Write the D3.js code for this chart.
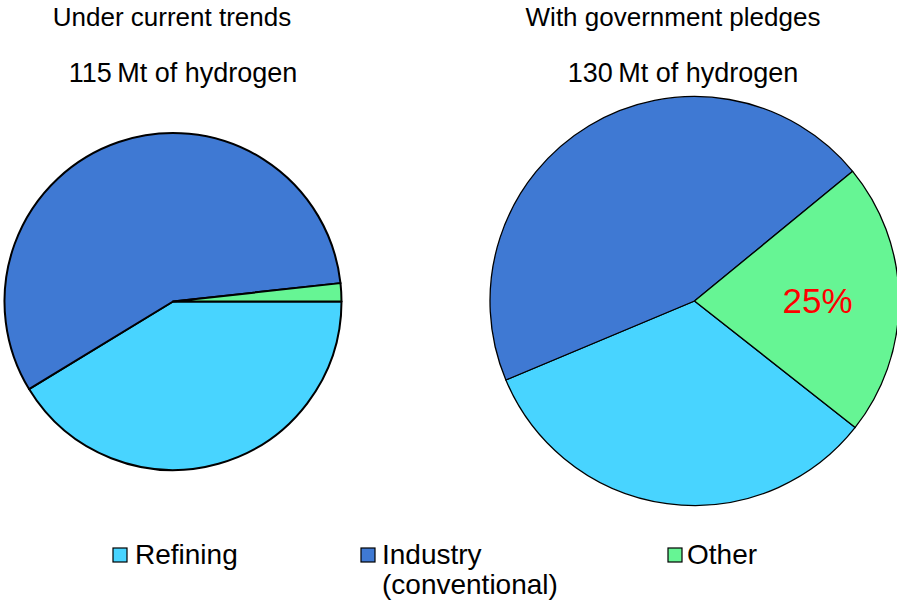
<!DOCTYPE html>
<html>
<head>
<meta charset="utf-8">
<script src="https://cdn.jsdelivr.net/npm/d3@7"></script>
<style>
html,body{margin:0;padding:0;background:#fff;}
svg{display:block;font-family:"Liberation Sans",Arial,sans-serif;}
</style>
</head>
<body>
<svg id="chart" width="897" height="601"></svg>
<script>
// ---- data ----
const categories = ["Refining", "Industry (conventional)", "Other"];
const legendLines = [["Refining"], ["Industry", "(conventional)"], ["Other"]];
const currentTrendsMt = [47.5, 65.5, 2.0];     // 115 Mt total
const pledgesMt = [43, 59, 28];                 // 130 Mt total
const pieTitles = ["Under current trends", "With government pledges"];
const pieSubtitles = ["115\u2009Mt of hydrogen", "130\u2009Mt of hydrogen"];
const highlightLabel = "25%";
const colors = ["#48d4ff", "#3f79d3", "#66f594"];

const svg = d3.select("#chart");

const pies = [
  {values: currentTrendsMt, cx: 173, cy: 301.5, r: 168.5, start: 90, stroke: 2,
   titleX: 172, subX: 183},
  {values: pledgesMt, cx: 694.5, cy: 301, r: 204.5, start: 128.2, stroke: 1.3,
   titleX: 673, subX: 683}
];

const color = d3.scaleOrdinal().domain(categories).range(colors);

pies.forEach((p, i) => {
  const s = p.start * Math.PI / 180;
  const pie = d3.pie().sort(null).value(d => d)
    .startAngle(s).endAngle(s + 2 * Math.PI);
  const arc = d3.arc().innerRadius(0).outerRadius(p.r);
  const g = svg.append("g").attr("transform", `translate(${p.cx},${p.cy})`);
  const arcs = pie(p.values);
  g.selectAll("path").data(arcs).join("path")
    .attr("d", arc)
    .attr("fill", (d, j) => color(categories[j]))
    .attr("stroke", "#000")
    .attr("stroke-width", p.stroke)
    .attr("stroke-linejoin", "round");

  svg.append("text").attr("x", p.titleX).attr("y", 26)
    .attr("text-anchor", "middle").attr("font-size", 26).attr("fill", "#000")
    .text(pieTitles[i]);
  svg.append("text").attr("x", p.subX).attr("y", 82)
    .attr("text-anchor", "middle").attr("font-size", 27).attr("fill", "#000")
    .text(pieSubtitles[i]);

  if (i === 1) {
    svg.append("text").attr("x", 817.5).attr("y", 313)
      .attr("text-anchor", "middle").attr("font-size", 35).attr("fill", "#ff0000")
      .text(highlightLabel);
  }
});

// legend
const legendX = [{sq: 113, tx: 135}, {sq: 361, tx: 382}, {sq: 668, tx: 687}];
const lg = svg.append("g");
categories.forEach((c, i) => {
  lg.append("rect").attr("x", legendX[i].sq).attr("y", 548)
    .attr("width", 14).attr("height", 14)
    .attr("fill", color(c)).attr("stroke", "#000").attr("stroke-width", 1.2);
  legendLines[i].forEach((line, k) => {
    lg.append("text").attr("x", legendX[i].tx).attr("y", 564 + k * 30)
      .attr("font-size", 28).attr("fill", "#000").text(line);
  });
});
</script>
</body>
</html>
